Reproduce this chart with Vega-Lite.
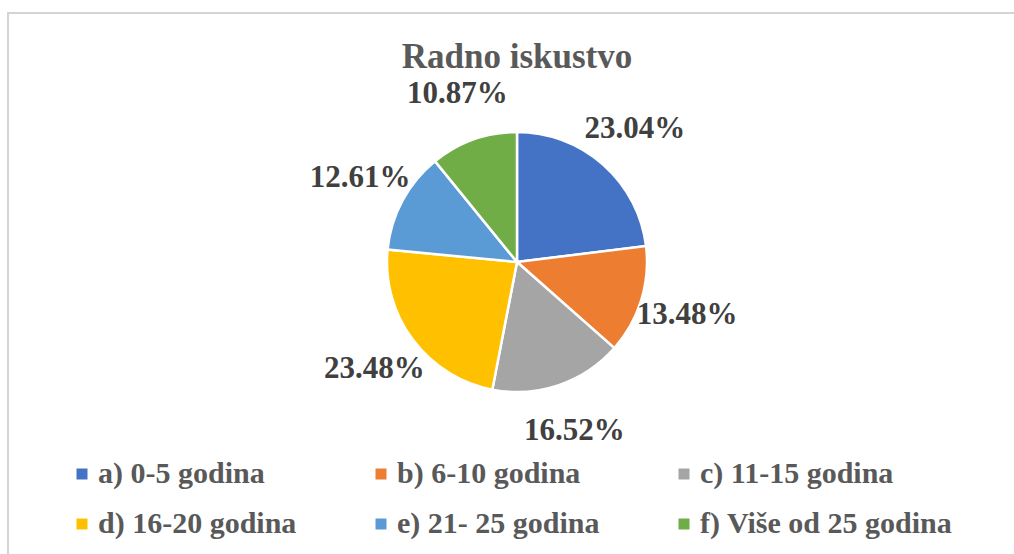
{
  "$schema": "https://vega.github.io/schema/vega-lite/v6.json",
  "width": 1018,
  "height": 560,
  "autosize": {"type": "none"},
  "padding": {"left": 8, "top": 13, "right": -11, "bottom": -19},
  "background": "white",
  "view": {"stroke": "#d4d4d4", "strokeWidth": 2, "fill": "white"},
  "title": {
    "text": "Radno iskustvo",
    "font": "Liberation Serif",
    "fontSize": 35,
    "fontWeight": "bold",
    "color": "#595959",
    "anchor": "middle",
    "offset": -62
  },
  "config": {
    "legend": {
      "orient": "none",
      "legendX": 59,
      "legendY": 446,
      "direction": "horizontal",
      "columns": 3,
      "symbolType": "square",
      "symbolSize": 121,
      "symbolStrokeWidth": 0,
      "labelFont": "Liberation Serif",
      "labelFontSize": 30,
      "labelFontWeight": "bold",
      "labelColor": "#595959",
      "labelLimit": 400,
      "labelOffset": 1,
      "columnPadding": 69,
      "rowPadding": 20,
      "padding": 0
    }
  },
  "data": {
    "values": [
      {"cat": "a) 0-5 godina", "pct": 0.2304},
      {"cat": "b) 6-10 godina", "pct": 0.1348},
      {"cat": "c) 11-15 godina", "pct": 0.1652},
      {"cat": "d) 16-20 godina", "pct": 0.2348},
      {"cat": "e) 21- 25 godina", "pct": 0.1261},
      {"cat": "f) Više od 25 godina", "pct": 0.1087}
    ]
  },
  "encoding": {
    "theta": {"field": "pct", "type": "quantitative", "stack": true},
    "order": {"field": "cat", "type": "ordinal", "sort": "ascending"}
  },
  "layer": [
    {
      "mark": {"type": "arc", "radius": 130, "stroke": "white", "strokeWidth": 2.5, "yOffset": -31},
      "encoding": {
        "color": {
          "field": "cat",
          "type": "nominal",
          "scale": {"range": ["#4472C4", "#ED7D31", "#A5A5A5", "#FFC000", "#5B9BD5", "#70AD47"]},
          "legend": {"title": null}
        }
      }
    },
    {
      "mark": {
        "type": "text",
        "radius": 178,
        "font": "Liberation Serif",
        "fontSize": 31,
        "fontWeight": "bold",
        "color": "#404040",
        "dy": -31,
        "align": "center",
        "baseline": "middle"
      },
      "encoding": {
        "text": {"field": "pct", "type": "quantitative", "format": ".2%"},
        "detail": {"field": "cat"}
      }
    }
  ]
}
